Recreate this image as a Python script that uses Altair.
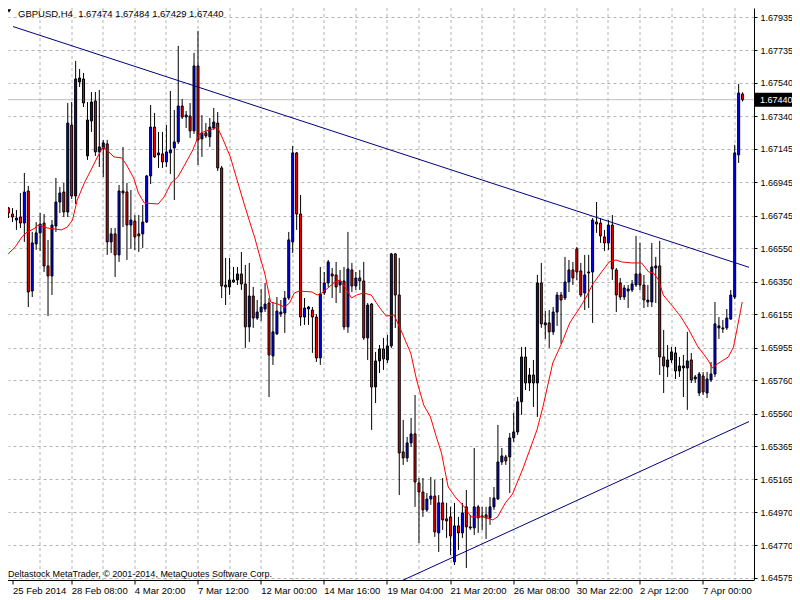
import altair as alt
import pandas as pd

# ---------------- data (GBPUSD, H4) ----------------
opens = [
    1.66791, 1.66755, 1.66719, 1.66737, 1.66701, 1.66893, 1.66294, 1.66576, 1.66642, 1.66701,
    1.66444, 1.66384, 1.66683, 1.66827, 1.66887, 1.66767, 1.67288, 1.66863, 1.67546, 1.67564,
    1.67103, 1.67312, 1.67432, 1.67127, 1.67145, 1.67175, 1.66588, 1.66636, 1.66510, 1.66893,
    1.66887, 1.66689, 1.66713, 1.66636, 1.66636, 1.66707, 1.66983, 1.67276, 1.67109, 1.67115,
    1.67067, 1.67121, 1.67151, 1.67187, 1.67402, 1.67336, 1.67342, 1.67253, 1.67642, 1.67205,
    1.67241, 1.67217, 1.67270, 1.67300, 1.67031, 1.66330, 1.66318, 1.66360, 1.66360, 1.66396,
    1.66336, 1.66079, 1.66264, 1.66132, 1.66168, 1.66186, 1.66222, 1.65905, 1.66037, 1.66156,
    1.66162, 1.66252, 1.66588, 1.67121, 1.66755, 1.66138, 1.66186, 1.66180, 1.66138, 1.65893,
    1.66282, 1.66342, 1.66396, 1.66390, 1.66330, 1.66354, 1.66079, 1.66420, 1.66324, 1.66372,
    1.66354, 1.66013, 1.66216, 1.65719, 1.65875, 1.65947, 1.65881, 1.65965, 1.66516, 1.66270,
    1.65330, 1.65294, 1.65384, 1.65438, 1.65144, 1.65090, 1.64983, 1.65048, 1.65066, 1.64845,
    1.65025, 1.64929, 1.64941, 1.64671, 1.64887, 1.64845, 1.65001, 1.64881, 1.64875, 1.65001,
    1.64941, 1.64953, 1.64935, 1.65001, 1.65048, 1.65270, 1.65300, 1.65300, 1.65414, 1.65450,
    1.65630, 1.65899, 1.65743, 1.65791, 1.65743, 1.66342, 1.66091, 1.66103, 1.66049, 1.66168,
    1.66270, 1.66252, 1.66348, 1.66420, 1.66546, 1.66414, 1.66282, 1.66402, 1.66408, 1.66707,
    1.66701, 1.66618, 1.66582, 1.66689, 1.66420, 1.66342, 1.66258, 1.66294, 1.66300, 1.66330,
    1.66396, 1.66330, 1.66228, 1.66228, 1.66432, 1.66444, 1.65899, 1.65839, 1.65881, 1.65923,
    1.65815, 1.65833, 1.65833, 1.65881, 1.65767, 1.65683, 1.65785, 1.65683, 1.65761, 1.65797,
    1.66073, 1.66067, 1.66073, 1.66126, 1.66258, 1.67109, 1.67474,
]
highs = [
    1.66797, 1.66791, 1.66779, 1.66881, 1.67001, 1.66923, 1.66648, 1.66707, 1.66761, 1.66755,
    1.66600, 1.66719, 1.66971, 1.66917, 1.66941, 1.67420, 1.67426, 1.67672, 1.67624, 1.67600,
    1.67426, 1.67486, 1.67486, 1.67498, 1.67199, 1.67199, 1.66671, 1.66671, 1.66929, 1.67157,
    1.66941, 1.66899, 1.66749, 1.66749, 1.66809, 1.66989, 1.67408, 1.67360, 1.67247, 1.67247,
    1.67288, 1.67492, 1.67378, 1.67762, 1.67444, 1.67372, 1.67420, 1.67720, 1.67852, 1.67348,
    1.67300, 1.67330, 1.67390, 1.67366, 1.67043, 1.66492, 1.66492, 1.66438, 1.66438, 1.66528,
    1.66450, 1.66462, 1.66318, 1.66240, 1.66306, 1.66342, 1.66252, 1.66228, 1.66258, 1.66240,
    1.66294, 1.66648, 1.67163, 1.67127, 1.66869, 1.66252, 1.66204, 1.66198, 1.66156, 1.66438,
    1.66408, 1.66480, 1.66432, 1.66468, 1.66420, 1.66438, 1.66648, 1.66462, 1.66408, 1.66420,
    1.66468, 1.66222, 1.66222, 1.65929, 1.65971, 1.66013, 1.66031, 1.66522, 1.66522, 1.66492,
    1.65522, 1.65420, 1.65534, 1.65671, 1.65174, 1.65174, 1.65084, 1.65180, 1.65162, 1.65072,
    1.65174, 1.65025, 1.65001, 1.65025, 1.64941, 1.65025, 1.65102, 1.64953, 1.65354, 1.65013,
    1.65001, 1.65001, 1.65060, 1.65120, 1.65492, 1.65354, 1.65312, 1.65444, 1.65564, 1.65659,
    1.65959, 1.65959, 1.65833, 1.65881, 1.66390, 1.66462, 1.66174, 1.66180, 1.66198, 1.66288,
    1.66288, 1.66498, 1.66480, 1.66468, 1.66558, 1.66462, 1.66510, 1.66510, 1.66731, 1.66827,
    1.66731, 1.66660, 1.66719, 1.66749, 1.66432, 1.66372, 1.66330, 1.66330, 1.66360, 1.66624,
    1.66582, 1.66390, 1.66330, 1.66582, 1.66498, 1.66594, 1.66061, 1.65971, 1.65959, 1.65959,
    1.65899, 1.65911, 1.66049, 1.65923, 1.65791, 1.65809, 1.65809, 1.65809, 1.65869, 1.66228,
    1.66138, 1.66121, 1.66186, 1.66300, 1.67169, 1.67534, 1.67484,
]
lows = [
    1.66731, 1.66707, 1.66660, 1.66671, 1.66588, 1.66198, 1.66258, 1.66540, 1.66534, 1.66408,
    1.66144, 1.66270, 1.66648, 1.66761, 1.66737, 1.66737, 1.66845, 1.66815, 1.67516, 1.67396,
    1.67079, 1.67247, 1.67103, 1.67037, 1.66977, 1.66510, 1.66522, 1.66378, 1.66468, 1.66677,
    1.66480, 1.66546, 1.66540, 1.66528, 1.66552, 1.66701, 1.66935, 1.67091, 1.67031, 1.67031,
    1.67037, 1.66995, 1.66839, 1.67175, 1.67324, 1.67270, 1.67211, 1.67235, 1.67049, 1.67097,
    1.67211, 1.67157, 1.67259, 1.67013, 1.66252, 1.66210, 1.66270, 1.66342, 1.66330, 1.66300,
    1.65953, 1.65989, 1.66073, 1.66121, 1.66115, 1.66168, 1.65659, 1.65851, 1.66031, 1.66138,
    1.66043, 1.66240, 1.66522, 1.66660, 1.66085, 1.66091, 1.66091, 1.65923, 1.65869, 1.65851,
    1.66270, 1.66318, 1.66252, 1.66222, 1.66282, 1.66061, 1.66043, 1.66288, 1.66300, 1.66300,
    1.66001, 1.65881, 1.65462, 1.65623, 1.65803, 1.65821, 1.65863, 1.65953, 1.66073, 1.65072,
    1.65252, 1.65270, 1.65360, 1.65001, 1.64785, 1.64941, 1.64971, 1.65013, 1.64821, 1.64731,
    1.64863, 1.64815, 1.64713, 1.64653, 1.64743, 1.64815, 1.64635, 1.64863, 1.64833, 1.64845,
    1.64863, 1.64809, 1.64893, 1.64983, 1.65043, 1.65252, 1.65252, 1.65084, 1.65390, 1.65432,
    1.65552, 1.65701, 1.65695, 1.65599, 1.65540, 1.66073, 1.66007, 1.65953, 1.66031, 1.66085,
    1.65977, 1.66240, 1.66288, 1.66330, 1.66360, 1.66258, 1.66180, 1.66192, 1.66103, 1.66642,
    1.66582, 1.66534, 1.66540, 1.66360, 1.66168, 1.66240, 1.66240, 1.66192, 1.66288, 1.66318,
    1.66300, 1.66192, 1.66198, 1.66198, 1.66222, 1.65791, 1.65683, 1.65779, 1.65863, 1.65767,
    1.65779, 1.65659, 1.65582, 1.65743, 1.65743, 1.65665, 1.65671, 1.65653, 1.65749, 1.65779,
    1.66007, 1.66043, 1.66061, 1.66121, 1.66246, 1.67061, 1.67429,
]
closes = [
    1.66761, 1.66737, 1.66731, 1.66701, 1.66887, 1.66288, 1.66582, 1.66642, 1.66695, 1.66444,
    1.66384, 1.66689, 1.66827, 1.66881, 1.66767, 1.67300, 1.66863, 1.67564, 1.67570, 1.67420,
    1.67318, 1.67426, 1.67127, 1.67157, 1.67181, 1.66588, 1.66636, 1.66510, 1.66893, 1.66881,
    1.66689, 1.66719, 1.66618, 1.66624, 1.66707, 1.66983, 1.67276, 1.67097, 1.67121, 1.67067,
    1.67127, 1.67139, 1.67187, 1.67402, 1.67336, 1.67348, 1.67253, 1.67642, 1.67199, 1.67241,
    1.67223, 1.67276, 1.67306, 1.67031, 1.66324, 1.66318, 1.66360, 1.66348, 1.66396, 1.66336,
    1.66079, 1.66264, 1.66132, 1.66168, 1.66198, 1.66216, 1.65911, 1.66049, 1.66174, 1.66168,
    1.66252, 1.66600, 1.67121, 1.66755, 1.66138, 1.66192, 1.66198, 1.66138, 1.65893, 1.66276,
    1.66342, 1.66468, 1.66384, 1.66318, 1.66354, 1.66079, 1.66426, 1.66324, 1.66372, 1.66354,
    1.66013, 1.66210, 1.65719, 1.65875, 1.65947, 1.65887, 1.65965, 1.66516, 1.66270, 1.65324,
    1.65294, 1.65384, 1.65438, 1.65150, 1.65090, 1.64983, 1.65048, 1.65066, 1.64851, 1.65025,
    1.64923, 1.64917, 1.64827, 1.64887, 1.64845, 1.64965, 1.64881, 1.64875, 1.65001, 1.64935,
    1.64947, 1.64935, 1.65001, 1.65054, 1.65270, 1.65306, 1.65276, 1.65414, 1.65450, 1.65630,
    1.65899, 1.65743, 1.65791, 1.65743, 1.66342, 1.66097, 1.66103, 1.66049, 1.66168, 1.66270,
    1.66240, 1.66348, 1.66420, 1.66372, 1.66408, 1.66270, 1.66390, 1.66408, 1.66719, 1.66695,
    1.66624, 1.66582, 1.66689, 1.66426, 1.66270, 1.66258, 1.66312, 1.66306, 1.66336, 1.66396,
    1.66330, 1.66240, 1.66240, 1.66438, 1.66444, 1.65899, 1.65845, 1.65881, 1.65929, 1.65815,
    1.65845, 1.65845, 1.65875, 1.65761, 1.65779, 1.65797, 1.65689, 1.65767, 1.65797, 1.66097,
    1.66085, 1.66073, 1.66132, 1.66270, 1.67121, 1.67480, 1.67440,
]

# moving average (red line), read at bar positions
ma_bars = [
    -0.1, 1.7, 3.4, 4.4, 6.7, 7.4, 9.9, 13.4, 14.9, 16.2, 17.4, 19.2, 20.9, 22.4, 23.9, 24.9,
    26.7, 28.7, 29.9, 31.7, 32.9, 34.4, 37.9, 39.4, 41.2, 42.9, 44.9, 46.7, 48.2, 49.4, 51.7,
    52.9, 54.4, 56.2, 57.9, 59.4, 61.2, 62.4, 63.7, 64.9, 66.4, 68.2, 69.9, 71.2, 72.4, 73.7,
    76.9, 78.2, 79.4, 81.2, 82.7, 83.9, 85.4, 86.9, 88.2, 89.9, 91.9, 93.9, 95.7, 97.7, 99.4,
    101.9, 103.4, 105.2, 106.9, 108.4, 109.7, 111.4, 113.4, 115.7, 117.2, 120.2, 122.7, 123.9,
    125.9, 127.7, 130.4, 133.9, 135.4, 137.9, 140.2, 142.2, 144.7, 146.4, 147.9, 149.7, 152.2,
    153.9, 155.4, 157.9, 160.4, 162.2, 163.4, 164.7, 165.9, 168.4, 170.4, 172.4, 174.7, 175.9,
    177.2, 178.4, 179.2, 180.4, 182.4, 183.7, 184.7, 185.9,
]
ma_prices = [
    1.66516, 1.66558, 1.66618, 1.66642, 1.66671, 1.66689, 1.66671, 1.66660, 1.66677, 1.66719,
    1.66839, 1.66941, 1.67019, 1.67091, 1.67157, 1.67139, 1.67097, 1.67091, 1.67049, 1.66971,
    1.66881, 1.66821, 1.66815, 1.66857, 1.66941, 1.66977, 1.67061, 1.67139, 1.67229, 1.67247,
    1.67264, 1.67276, 1.67199, 1.67097, 1.66959, 1.66839, 1.66701, 1.66612, 1.66498, 1.66402,
    1.66228, 1.66216, 1.66198, 1.66222, 1.66282, 1.66294, 1.66288, 1.66270, 1.66282, 1.66318,
    1.66348, 1.66360, 1.66312, 1.66252, 1.66270, 1.66282, 1.66270, 1.66198, 1.66144, 1.66150,
    1.66061, 1.65923, 1.65761, 1.65611, 1.65540, 1.65420, 1.65324, 1.65120, 1.65054, 1.64995,
    1.64941, 1.64941, 1.64923, 1.64941, 1.65025, 1.65078, 1.65234, 1.65462, 1.65599, 1.65863,
    1.65983, 1.66103, 1.66192, 1.66258, 1.66330, 1.66390, 1.66468, 1.66480, 1.66468, 1.66462,
    1.66462, 1.66408, 1.66402, 1.66360, 1.66270, 1.66198, 1.66138, 1.66061, 1.65959, 1.65923,
    1.65881, 1.65833, 1.65851, 1.65869, 1.65899, 1.65959, 1.66079, 1.66228,
]

# trend lines (bar index, price) at their two ends
upper_trend_bars = [1.125, 187.625]
upper_trend_prices = [1.67878, 1.66436]
lower_trend_bars = [99.125, 187.625]
lower_trend_prices = [1.64553, 1.65512]

# axis labels
date_labels = ["25 Feb 2014", "28 Feb 08:00", "4 Mar 20:00", "7 Mar 12:00", "12 Mar 00:00",
               "14 Mar 16:00", "19 Mar 04:00", "21 Mar 20:00", "26 Mar 08:00", "30 Mar 22:00",
               "2 Apr 12:00", "7 Apr 00:00"]
date_label_bars = [0, 16, 32, 48, 64, 80, 96, 112, 128, 144, 160, 176]
price_ticks = [1.67935, 1.67735, 1.67540, 1.67340, 1.67145, 1.66945, 1.66745, 1.66550, 1.66350,
               1.66155, 1.65955, 1.65760, 1.65560, 1.65365, 1.65165, 1.64970, 1.64770, 1.64575]

symbol = "GBPUSD,H4"
copyright_text = "Deltastock MetaTrader, \u00a9 2001-2014, MetaQuotes Software Corp."

# ---------------- chart ----------------
FONT = "Liberation Sans"
GRID = "#b4b4b4"
X_LO, X_HI = 1.125, 187.625
Y_LO, Y_HI = 1.64563, 1.67989

candles = pd.DataFrame({"i": list(range(len(opens))), "o": opens, "h": highs, "l": lows, "c": closes})
ma_df = pd.DataFrame({"i": ma_bars, "p": ma_prices})
trend_df = pd.DataFrame({
    "i": upper_trend_bars + lower_trend_bars,
    "p": upper_trend_prices + lower_trend_prices,
    "line": ["upper"] * 2 + ["lower"] * 2,
})
bid_df = pd.DataFrame({"p": [closes[-1]]})
header_df = pd.DataFrame({"t": [f"{symbol}\u00a0\u00a0{opens[-1]:.5f} {highs[-1]:.5f} {lows[-1]:.5f} {closes[-1]:.5f}"]})
copy_df = pd.DataFrame({"t": [copyright_text]})

x_vals = sorted(set([max(b, X_LO) for b in date_label_bars] + list(range(8, 188, 8))))
lbl_arr = "[" + ",".join("'" + s + "'" for s in date_labels) + "]"
label_expr = f"(datum.value < 8 || datum.value % 16 === 0) ? {lbl_arr}[floor(datum.value / 16)] : ''"

xscale = alt.Scale(domain=[X_LO, X_HI], nice=False, zero=False)
yscale = alt.Scale(domain=[Y_LO, Y_HI], nice=False, zero=False)

xaxis = alt.Axis(
    orient="bottom", values=x_vals, title=None, grid=True, gridColor=GRID, gridDash=[3, 3],
    gridOpacity={"condition": {"test": "datum.value < 8", "value": 0}, "value": 1},
    tickOpacity={"condition": {"test": "datum.value < 8 || datum.value % 16 === 0", "value": 1}, "value": 0},
    tickSize=4, tickColor="black", domainColor="black", labelExpr=label_expr, labelAlign="left",
    labelBaseline="top", labelPadding=1, labelFont=FONT, labelFontSize=9.5, labelColor="black",
    labelOverlap=False, labelFlush=False, translate=0, offset=0.5,
)
yaxis = alt.Axis(
    orient="right", values=price_ticks, format=".5f", title=None, grid=True, gridColor=GRID,
    gridDash=[3, 3], tickSize=3, tickColor="black", domainColor="black", labelFont=FONT,
    labelFontSize=9, labelColor="black", labelPadding=3, labelOverlap=False, labelFlush=False,
)


def X(f):
    return alt.X(f"{f}:Q", scale=xscale, axis=xaxis)


def Y(f):
    return alt.Y(f"{f}:Q", scale=yscale, axis=yaxis)


bid_line = alt.Chart(bid_df).mark_rule(color="#c0c0c0", strokeWidth=1).encode(y=Y("p"))

wicks = alt.Chart(candles).mark_rule(color="black", strokeWidth=1, clip=True).encode(
    x=X("i"), y=Y("h"), y2="l:Q")

bodies = alt.Chart(candles).mark_bar(size=2, stroke="black", strokeWidth=1, clip=True).encode(
    x=X("i"), y=Y("o"), y2="c:Q",
    fill=alt.condition("datum.c >= datum.o", alt.value("#0000ff"), alt.value("#ff0000")),
)

ma_line = alt.Chart(ma_df).mark_line(color="#ff0000", strokeWidth=1, clip=True).encode(
    x=X("i"), y=Y("p"))

trend = alt.Chart(trend_df).mark_line(color="#000080", strokeWidth=1, clip=True).encode(
    x=X("i"), y=Y("p"), detail="line:N")

price_box = alt.Chart(bid_df).transform_calculate(
    top="datum.p + 0.00042", bot="datum.p - 0.00042"
).mark_rect(color="black").encode(
    x=alt.value(747), x2=alt.value(790), y=Y("top"), y2="bot:Q")

price_txt = alt.Chart(bid_df).mark_text(
    align="left", baseline="middle", color="white", font=FONT, fontSize=9
).encode(x=alt.value(752), y=Y("p"), text=alt.Text("p:Q", format=".5f"))

header = alt.Chart(header_df).mark_text(
    align="left", baseline="alphabetic", font=FONT, fontSize=9.5, color="black"
).encode(x=alt.value(10), y=alt.value(9), text="t:N")

tri = alt.Chart(header_df).mark_point(
    shape="triangle-down", filled=True, color="black", size=18, opacity=1
).encode(x=alt.value(1), y=alt.value(3))

copy_txt = alt.Chart(copy_df).mark_text(
    align="left", baseline="alphabetic", font=FONT, fontSize=9, color="black"
).encode(x=alt.value(0), y=alt.value(569), text="t:N")

chart = alt.layer(
    bid_line, wicks, bodies, ma_line, trend, price_box, price_txt, header, tri, copy_txt
).properties(
    width=746, height=572,
    autosize=alt.AutoSizeParams(type="none"),
    padding={"left": 0, "top": 0, "right": 38, "bottom": 20},
    background="white",
).configure_view(stroke=None)

chart.save("out.html", embed_options={"renderer": "svg", "actions": False})
